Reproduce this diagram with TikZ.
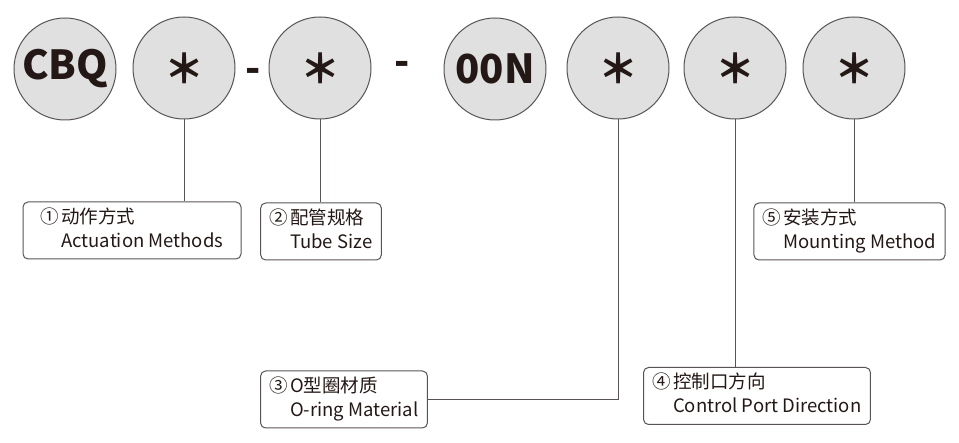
\documentclass[tikz,border=0pt]{standalone}
\usepackage{fontspec}
\setmainfont{Noto Sans CJK SC}
\usepackage{xcolor}
\definecolor{disc}{HTML}{E0E0E1}
\definecolor{edge}{HTML}{5A5354}
\definecolor{ink}{HTML}{231815}
\newcommand{\twoline}[3]{\begin{tabular}{@{}l@{\hspace{2pt}}l@{}}#1&#2\\&#3\end{tabular}}

\begin{document}
\begin{tikzpicture}[x=1pt,y=-1pt,
  code/.style={circle,draw=edge,fill=disc,line width=1pt,minimum size=102pt,inner sep=0pt,text=ink,font=\bfseries\fontsize{40}{40}\selectfont},
  sep/.style={text=ink,font=\bfseries\fontsize{40}{40}\selectfont},
  lbl/.style={draw=edge,rounded corners=5pt,line width=1pt,minimum height=57pt,inner xsep=9pt,text=ink,font=\fontsize{18.5}{24}\selectfont},
  wire/.style={draw=edge,line width=1pt}]
  \useasboundingbox (0,0) rectangle (959,443);
  % code
  \node[code] (c1) at (65,69) {CBQ};
  \node[code] (c2) at (184,68) {＊};
  \node[sep] (d1) at (253,75) {-};
  \node[code] (c3) at (320,68) {＊};
  \node[sep] (d2) at (402,68) {-};
  \node[code] (c4) at (495,69) {00N};
  \node[code] (c5) at (618,68) {＊};
  \node[code] (c6) at (735,68) {＊};
  \node[code] (c7) at (854,68) {＊};
  % labels
  \node[lbl,minimum width=218pt] (b1) at (132,230.5) {\twoline{①}{动作方式}{Actuation Methods}};
  \node[lbl] (b2) at (321,231.5) {\twoline{②}{配管规格}{Tube Size}};
  \node[lbl] (b3) at (344,399.5) {\twoline{③}{O型圈材质}{O-ring Material}};
  \node[lbl] (b4) at (757,396) {\twoline{④}{控制口方向}{Control Port Direction}};
  \node[lbl] (b5) at (849.5,231.5) {\twoline{⑤}{安装方式}{Mounting Method}};
  % wires
  \path[wire] (c2.south) -- (c2.south |- b1.north)
    (c3.south) -- (c3.south |- b2.north)
    (c5.south) |- (b3.east)
    (c6.south) -- (c6.south |- b4.north)
    (c7.south) -- (c7.south |- b5.north);
\end{tikzpicture}
\end{document}
